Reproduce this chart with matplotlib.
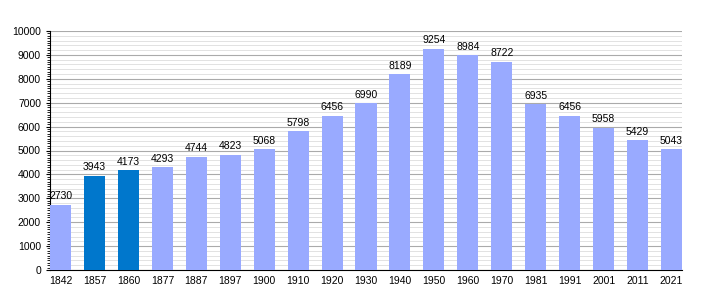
import matplotlib
matplotlib.use("Agg")
import matplotlib.pyplot as plt
from matplotlib.ticker import MultipleLocator

plt.rcParams["font.family"] = ["Liberation Sans", "DejaVu Sans"]

years = ["1842", "1857", "1860", "1877", "1887", "1897", "1900", "1910", "1920",
         "1930", "1940", "1950", "1960", "1970", "1981", "1991", "2001", "2011", "2021"]
population = [2730, 3943, 4173, 4293, 4744, 4823, 5068, 5798, 6456,
              6990, 8189, 9254, 8984, 8722, 6935, 6456, 5958, 5429, 5043]
highlight = ["1857", "1860"]

light = "#99aaff"
dark = "#0077cc"

fig = plt.figure(figsize=(7.1, 3.0), dpi=100)
ax = fig.add_axes([50 / 710, 30 / 300, 632 / 710, 239 / 300])

x = list(range(len(years)))
colors = [dark if y in highlight else light for y in years]
ax.bar(x, population, width=0.62, color=colors, zorder=3)

for xi, v in zip(x, population):
    ax.text(xi, v + 140, str(v), ha="center", va="bottom", fontsize=7.5, zorder=4)

ax.set_xlim(-0.31, len(years) - 1 + 0.31)
ax.set_ylim(0, 10000)
ax.set_xticks(x)
ax.set_xticklabels(years)
ax.yaxis.set_major_locator(MultipleLocator(1000))
ax.yaxis.set_minor_locator(MultipleLocator(100))
ax.grid(axis="y", which="major", color="#aaaaaa", linewidth=0.8, zorder=0)
# light lines every 200 between the major ones
for yv in range(200, 10000, 200):
    if yv % 1000:
        ax.axhline(yv, color="#dddddd", linewidth=0.6, zorder=0)
ax.tick_params(axis="both", labelsize=7.5, length=3, width=0.8)
ax.tick_params(axis="y", which="minor", length=2, width=0.6)
ax.tick_params(axis="x", length=0, pad=4)
for s in ["top", "right"]:
    ax.spines[s].set_visible(False)

fig.savefig("out.png", dpi=100)
